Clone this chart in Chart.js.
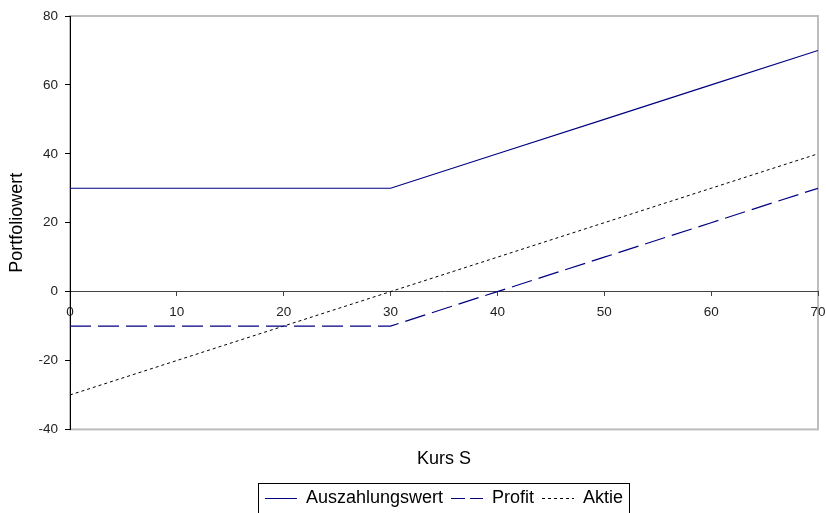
<!DOCTYPE html>
<html>
<head>
<meta charset="utf-8">
<title>Portfoliowert</title>
<script src="https://cdn.jsdelivr.net/npm/chart.js@4/dist/chart.umd.min.js"></script>
<style>
  html, body { margin: 0; padding: 0; background: #fff; }
  canvas { display: block; }
</style>
</head>
<body>
<canvas id="c" width="826" height="513"></canvas>
<script>
// Kurs S on the x axis
const kurs = [0, 10, 20, 30, 40, 50, 60, 70];
// Portfolio values for each Kurs S
const auszahlungswert = [30, 30, 30, 30, 40, 50, 60, 70];
const profit = [-10, -10, -10, -10, 0, 10, 20, 30];
const aktie = [-30, -20, -10, 0, 10, 20, 30, 40];

const FONT = '"Liberation Sans", Arial, sans-serif';
const SAMPLE_W = 32;

const toPoints = (vals) => vals.map((v, i) => ({ x: kurs[i], y: v }));

// line samples used in the legend (shorter dashes than in the plot)
const legendDash = [[], [14, 5], [3, 3]];

// light grey frame around the plot area
const plotFrame = {
  id: 'plotFrame',
  beforeDraw(chart) {
    const { ctx, chartArea: a } = chart;
    ctx.save();
    ctx.strokeStyle = '#bdbdbd';
    ctx.lineWidth = 2;
    ctx.strokeRect(a.left, a.top, a.right - a.left, a.bottom - a.top);
    ctx.restore();
  }
};

// legend line samples and the box around the legend
const legendFrame = {
  id: 'legendFrame',
  afterDraw(chart) {
    const hits = chart.legend && chart.legend.legendHitBoxes;
    if (!hits || !hits.length) return;
    const ctx = chart.ctx;
    ctx.save();
    hits.forEach((h, i) => {
      const ds = chart.data.datasets[i];
      const y = Math.round(h.top + h.height / 2) + 0.5;
      ctx.beginPath();
      ctx.setLineDash(legendDash[i]);
      ctx.strokeStyle = ds.borderColor;
      ctx.lineWidth = 1;
      ctx.moveTo(h.left, y);
      ctx.lineTo(h.left + SAMPLE_W, y);
      ctx.stroke();
    });
    ctx.setLineDash([]);
    const first = hits[0], last = hits[hits.length - 1];
    const left = Math.round(first.left - 7) + 0.5;
    const right = Math.round(last.left + last.width + 6) + 0.5;
    const top = Math.round(first.top + first.height / 2 - 15) + 0.5;
    ctx.strokeStyle = '#000';
    ctx.lineWidth = 1;
    ctx.strokeRect(left, top, right - left, 60);
    ctx.restore();
  }
};

new Chart(document.getElementById('c'), {
  type: 'line',
  data: {
    datasets: [
      {
        label: 'Auszahlungswert',
        data: toPoints(auszahlungswert),
        borderColor: '#000080',
        borderWidth: 1.2,
        pointRadius: 0,
        tension: 0
      },
      {
        label: 'Profit',
        data: toPoints(profit),
        borderColor: '#000080',
        borderWidth: 1.2,
        borderDash: [21, 7],
        pointRadius: 0,
        tension: 0
      },
      {
        label: 'Aktie',
        data: toPoints(aktie),
        borderColor: '#000',
        borderWidth: 1,
        borderDash: [3, 3],
        pointRadius: 0,
        tension: 0
      }
    ]
  },
  options: {
    responsive: false,
    animation: false,
    events: [],
    layout: { padding: { left: 0, top: 16, right: 8, bottom: -4 } },
    scales: {
      x: {
        type: 'linear',
        position: { y: 0 },
        min: 0,
        max: 70,
        grid: { drawOnChartArea: false, tickLength: 4, color: '#444', lineWidth: 1 },
        border: { color: '#444', width: 1 },
        ticks: {
          stepSize: 10,
          autoSkip: false,
          maxRotation: 0,
          padding: 9,
          color: '#222',
          font: { family: FONT, size: 13.5 }
        },
        afterFit(scale) {
          scale.paddingLeft = 0;
          scale.paddingRight = 0;
        }
      },
      y: {
        type: 'linear',
        min: -40,
        max: 80,
        grid: { drawOnChartArea: false, tickLength: 5, color: '#000', lineWidth: 1 },
        border: { color: '#000', width: 1 },
        ticks: {
          stepSize: 20,
          padding: 7,
          color: '#222',
          font: { family: FONT, size: 13.5 }
        },
        title: {
          display: true,
          text: 'Portfoliowert',
          color: '#000',
          font: { family: FONT, size: 18 },
          padding: { top: 6, bottom: 0 }
        },
        afterFit(scale) { scale.width = 70; }
      }
    },
    plugins: {
      title: {
        display: true,
        text: 'Kurs S',
        position: 'bottom',
        fullSize: false,
        weight: 100,
        color: '#000',
        font: { family: FONT, size: 18, weight: 'normal' },
        padding: { top: 19, bottom: 11 }
      },
      legend: {
        position: 'bottom',
        fullSize: false,
        weight: 1000,
        labels: {
          boxWidth: SAMPLE_W,
          boxHeight: 0,
          padding: 8,
          color: '#000',
          font: { family: FONT, size: 18 },
          generateLabels(chart) {
            return Chart.defaults.plugins.legend.labels.generateLabels(chart).map(item => ({
              ...item,
              fillStyle: 'rgba(0,0,0,0)',
              strokeStyle: 'rgba(0,0,0,0)',
              lineWidth: 0
            }));
          }
        }
      },
      tooltip: { enabled: false }
    }
  },
  plugins: [plotFrame, legendFrame]
});
</script>
</body>
</html>
